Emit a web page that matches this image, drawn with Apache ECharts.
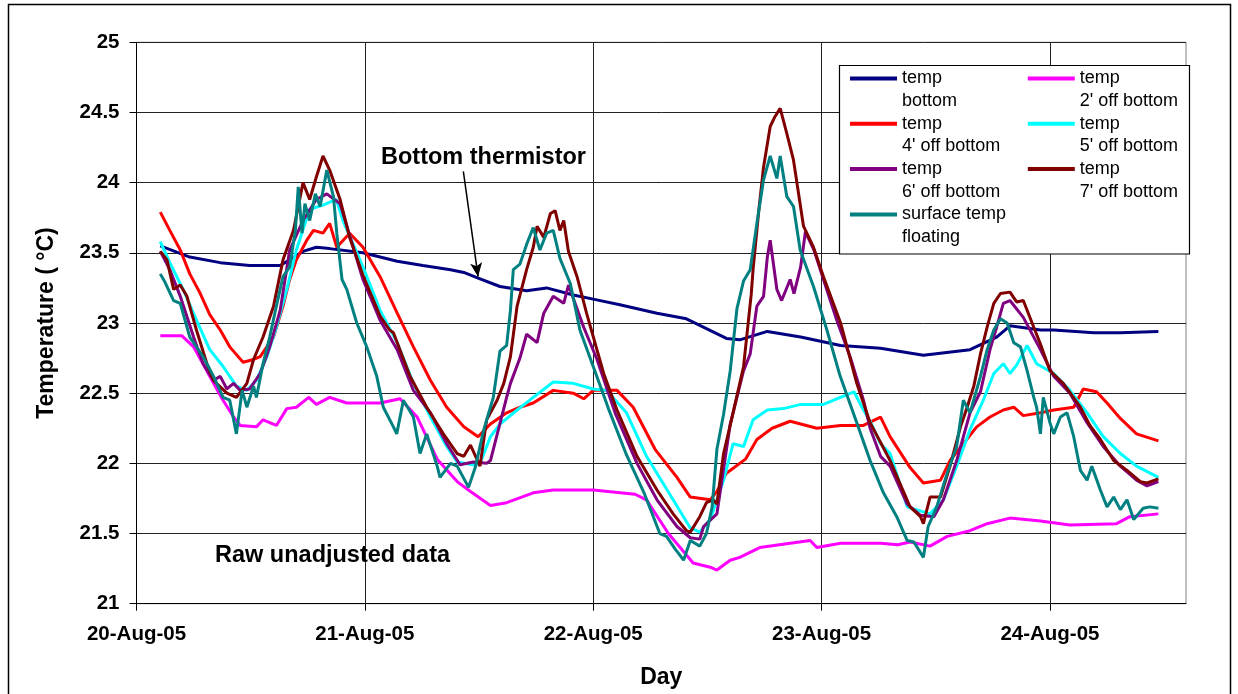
<!DOCTYPE html>
<html>
<head>
<meta charset="utf-8">
<title>Raw unadjusted temperature data</title>
<script src="https://cdn.jsdelivr.net/npm/echarts@6/dist/echarts.min.js"></script>
<style>
  html, body { margin: 0; padding: 0; background: #fff; }
  #main { width: 1238px; height: 694px; }
</style>
</head>
<body>
<div id="main"></div>
<script>
// x values are hours from 20-Aug-05 00:00, y values are deg C
const dayLabels = ['20-Aug-05', '21-Aug-05', '22-Aug-05', '23-Aug-05', '24-Aug-05'];

const tempBottom = [[2.5,23.55],[5.6,23.47],[8.8,23.43],[11.9,23.41],[15.1,23.41],[16.1,23.45],[17.5,23.51],[18.9,23.54],[20.3,23.53],[23.8,23.5],[27.4,23.44],[30.1,23.41],[33.0,23.38],[34.4,23.36],[35.9,23.32],[38.2,23.26],[41.0,23.23],[43.1,23.25],[45.9,23.2],[48.0,23.17],[50.8,23.13],[54.7,23.07],[57.8,23.03],[59.9,22.96],[62.0,22.89],[63.4,22.88],[66.3,22.94],[69.8,22.9],[74.0,22.84],[78.2,22.82],[82.7,22.77],[87.6,22.81],[90.4,22.9],[91.8,22.98],[95.0,22.95],[96.4,22.95],[100.6,22.93],[103.4,22.93],[107.4,22.94]];

const temp2ft = [[2.5,22.91],[4.75,22.91],[6.0,22.83],[9.0,22.46],[10.2,22.33],[10.9,22.27],[12.6,22.26],[13.3,22.31],[14.7,22.27],[15.8,22.39],[16.8,22.4],[18.1,22.47],[18.9,22.42],[20.3,22.47],[22.1,22.43],[25.6,22.43],[27.7,22.46],[29.5,22.33],[31.6,22.03],[33.7,21.87],[35.1,21.8],[37.2,21.7],[38.9,21.72],[41.7,21.79],[43.8,21.81],[48.0,21.81],[52.4,21.78],[53.6,21.74],[55.9,21.5],[58.5,21.29],[60.3,21.26],[61.0,21.24],[62.4,21.31],[63.4,21.33],[65.5,21.4],[68.7,21.43],[70.8,21.45],[71.5,21.4],[74.0,21.43],[78.2,21.43],[80.0,21.42],[81.3,21.44],[83.4,21.41],[85.2,21.48],[87.6,21.52],[89.4,21.57],[91.8,21.61],[95.0,21.59],[98.1,21.56],[103.0,21.57],[104.4,21.62],[107.4,21.64]];

const temp4ft = [[2.5,23.79],[3.5,23.66],[4.6,23.52],[5.6,23.35],[6.7,23.21],[7.7,23.06],[8.8,22.95],[9.8,22.83],[11.2,22.72],[12.3,22.74],[13.0,22.76],[14.4,22.9],[15.4,23.12],[16.1,23.31],[16.8,23.45],[17.9,23.59],[18.6,23.66],[19.6,23.64],[20.3,23.71],[21.05,23.54],[22.4,23.64],[23.8,23.54],[25.6,23.33],[27.4,23.07],[29.1,22.83],[30.9,22.59],[32.6,22.4],[34.4,22.26],[35.9,22.19],[37.2,22.28],[38.9,22.36],[40.3,22.4],[41.7,22.43],[43.8,22.52],[45.9,22.5],[47.0,22.46],[48.0,22.52],[50.5,22.52],[52.2,22.4],[54.5,22.1],[56.8,21.9],[58.2,21.76],[60.3,21.74],[61.0,21.8],[62.0,21.93],[64.0,22.03],[65.2,22.17],[66.8,22.25],[68.7,22.3],[71.5,22.25],[74.0,22.27],[76.4,22.27],[78.2,22.33],[79.2,22.19],[81.3,21.97],[82.7,21.86],[84.5,21.88],[85.5,22.02],[86.9,22.14],[88.3,22.26],[89.7,22.33],[91.1,22.38],[92.2,22.4],[93.2,22.34],[95.0,22.36],[96.4,22.38],[98.5,22.4],[99.5,22.53],[100.9,22.51],[102.0,22.43],[103.4,22.32],[105.1,22.21],[107.4,22.16]];

const temp5ft = [[2.5,23.58],[3.5,23.43],[4.9,23.24],[6.3,23.02],[7.7,22.81],[9.1,22.69],[10.5,22.55],[11.6,22.52],[12.6,22.59],[13.7,22.76],[14.7,22.97],[15.8,23.24],[16.8,23.52],[18.2,23.81],[19.6,23.84],[21.0,23.88],[21.7,23.73],[23.8,23.4],[25.6,23.09],[27.4,22.86],[29.1,22.57],[30.9,22.33],[32.6,22.12],[33.7,22.01],[35.4,21.99],[36.1,22.0],[37.2,22.19],[38.2,22.28],[40.0,22.38],[41.7,22.47],[43.8,22.58],[45.9,22.57],[48.0,22.53],[49.4,22.52],[51.5,22.36],[53.6,22.05],[56.4,21.74],[58.2,21.54],[59.2,21.51],[60.3,21.6],[61.7,21.88],[62.7,22.14],[63.8,22.12],[64.8,22.31],[66.3,22.38],[68.0,22.39],[69.8,22.42],[72.2,22.42],[73.6,22.46],[75.4,22.51],[76.4,22.38],[77.1,22.3],[78.2,22.14],[79.2,22.07],[81.0,21.69],[83.4,21.64],[84.8,21.74],[86.2,21.98],[87.6,22.24],[89.0,22.45],[90.1,22.64],[91.1,22.71],[91.8,22.64],[92.5,22.7],[93.6,22.84],[94.6,22.71],[96.4,22.64],[98.1,22.52],[99.9,22.36],[101.6,22.19],[103.4,22.07],[105.1,21.98],[107.4,21.9]];

const temp6ft = [[2.5,23.51],[3.5,23.38],[4.6,23.19],[6.0,22.9],[7.0,22.71],[8.1,22.59],[8.8,22.62],[9.5,22.53],[10.2,22.57],[10.9,22.52],[11.9,22.53],[13.0,22.64],[14.0,22.83],[15.1,23.09],[16.1,23.52],[17.5,23.73],[18.9,23.88],[20.0,23.92],[21.4,23.85],[23.8,23.31],[25.6,23.02],[27.4,22.81],[29.1,22.52],[30.9,22.36],[32.6,22.14],[34.0,21.99],[35.4,22.01],[36.8,22.0],[37.2,22.02],[38.9,22.47],[39.3,22.57],[40.3,22.75],[41.0,22.92],[42.1,22.86],[42.8,23.07],[43.8,23.19],[44.9,23.14],[45.4,23.27],[47.0,22.97],[48.4,22.74],[50.3,22.36],[52.6,22.0],[54.7,21.74],[56.8,21.55],[58.2,21.47],[59.2,21.46],[59.6,21.55],[61.0,21.64],[62.4,22.28],[63.8,22.66],[64.5,22.78],[65.2,23.12],[65.9,23.19],[66.3,23.47],[66.6,23.59],[67.3,23.24],[67.8,23.16],[68.7,23.31],[69.1,23.21],[69.8,23.4],[70.3,23.65],[71.2,23.52],[72.2,23.31],[73.6,23.02],[75.0,22.76],[76.4,22.45],[77.1,22.25],[78.2,22.05],[79.2,21.98],[81.0,21.71],[82.4,21.63],[83.8,21.62],[84.8,21.74],[86.2,22.02],[87.6,22.36],[88.7,22.51],[89.7,22.81],[90.4,22.97],[91.1,23.14],[91.8,23.16],[93.2,23.04],[95.0,22.81],[96.4,22.62],[98.1,22.5],[99.9,22.29],[101.6,22.12],[103.4,21.98],[105.1,21.88],[106.2,21.84],[107.4,21.87]];

const temp7ft = [[2.5,23.51],[3.2,23.45],[3.9,23.24],[4.6,23.27],[5.3,23.19],[6.3,22.95],[7.4,22.71],[8.1,22.59],[9.5,22.5],[10.5,22.47],[11.6,22.57],[12.3,22.74],[13.3,22.9],[14.4,23.12],[15.4,23.45],[16.5,23.66],[17.5,24.0],[18.2,23.88],[18.9,24.04],[19.6,24.19],[20.3,24.09],[21.4,23.88],[22.4,23.61],[23.8,23.34],[25.6,23.05],[26.6,22.95],[27.0,22.93],[28.75,22.62],[30.5,22.4],[32.25,22.21],[33.7,22.07],[34.4,22.05],[35.1,22.13],[35.9,22.01],[36.1,21.98],[36.8,22.31],[37.9,22.45],[38.6,22.57],[39.3,22.76],[40.0,23.12],[41.0,23.38],[41.7,23.54],[42.1,23.69],[42.8,23.61],[43.5,23.78],[44.0,23.8],[44.5,23.66],[44.9,23.73],[45.4,23.51],[46.3,23.33],[47.3,23.07],[49.1,22.64],[50.5,22.38],[52.6,22.05],[54.7,21.81],[56.4,21.64],[57.8,21.52],[58.2,21.51],[59.2,21.62],[59.9,21.72],[60.6,21.74],[61.0,21.71],[61.7,22.07],[62.7,22.36],[63.8,22.69],[64.6,23.2],[64.8,23.38],[65.4,23.8],[65.9,24.11],[66.6,24.4],[67.1,24.47],[67.65,24.53],[68.35,24.35],[69.05,24.16],[70.1,23.69],[71.15,23.54],[72.2,23.33],[74.0,23.0],[75.7,22.57],[77.1,22.29],[79.2,22.02],[81.3,21.69],[82.4,21.62],[82.7,21.57],[83.4,21.76],[84.5,21.76],[85.5,21.98],[86.6,22.26],[87.3,22.4],[88.0,22.55],[88.7,22.78],[89.4,22.97],[90.1,23.14],[90.8,23.21],[91.8,23.22],[92.5,23.15],[93.2,23.16],[94.3,22.97],[95.0,22.85],[96.0,22.66],[97.4,22.57],[99.2,22.4],[100.2,22.27],[101.3,22.17],[102.7,22.02],[104.1,21.95],[105.5,21.87],[106.2,21.86],[107.4,21.89]];

const tempSurface = [[2.5,23.35],[3.0,23.29],[3.9,23.16],[4.6,23.14],[5.6,22.9],[7.0,22.76],[8.1,22.62],[9.1,22.47],[9.8,22.45],[10.5,22.21],[11.1,22.52],[11.6,22.4],[12.3,22.55],[12.6,22.47],[13.3,22.71],[14.0,22.9],[14.7,23.12],[15.4,23.33],[16.1,23.4],[16.7,23.66],[17.0,23.97],[17.4,23.64],[17.7,23.85],[18.2,23.73],[18.8,23.92],[19.3,23.83],[20.0,24.09],[20.7,23.9],[21.05,23.64],[21.6,23.31],[22.1,23.24],[23.15,23.0],[24.2,22.83],[25.25,22.62],[25.94,22.4],[27.0,22.26],[27.35,22.21],[28.05,22.45],[29.1,22.33],[29.8,22.07],[30.5,22.21],[31.6,21.98],[31.9,21.9],[33.0,22.0],[33.7,21.98],[34.9,21.83],[35.6,21.97],[36.5,22.24],[36.8,22.31],[37.5,22.47],[38.2,22.8],[38.9,22.84],[39.3,23.09],[39.6,23.38],[40.3,23.42],[41.0,23.56],[41.7,23.68],[42.4,23.52],[43.1,23.64],[43.8,23.66],[44.5,23.46],[45.6,23.28],[46.6,22.95],[48.0,22.69],[49.6,22.39],[51.5,22.06],[53.4,21.78],[55.0,21.5],[55.7,21.48],[56.6,21.39],[57.5,21.31],[58.2,21.45],[59.2,21.41],[59.9,21.5],[60.5,21.69],[61.0,22.1],[61.7,22.35],[62.4,22.66],[63.1,23.1],[63.8,23.3],[64.5,23.38],[65.2,23.71],[65.9,24.02],[66.6,24.19],[67.3,24.03],[67.65,24.19],[68.35,23.9],[69.05,23.83],[69.75,23.52],[71.15,23.26],[72.56,22.95],[73.96,22.62],[75.7,22.29],[77.1,22.02],[78.5,21.79],[79.9,21.62],[81.0,21.45],[81.7,21.44],[82.7,21.33],[83.2,21.55],[84.1,21.69],[85.2,21.93],[86.2,22.12],[86.9,22.45],[87.6,22.36],[88.7,22.62],[89.4,22.81],[90.1,22.95],[90.8,23.03],[91.5,23.0],[92.2,22.86],[92.9,22.83],[93.6,22.66],[94.3,22.47],[94.6,22.4],[95.0,22.21],[95.3,22.47],[96.0,22.29],[96.4,22.21],[97.1,22.33],[97.8,22.36],[98.5,22.19],[99.2,21.95],[99.9,21.88],[100.4,21.98],[101.3,21.81],[102.0,21.69],[102.7,21.76],[103.4,21.67],[104.1,21.74],[104.8,21.6],[105.8,21.68],[106.5,21.69],[107.4,21.68]];

const seriesNames = ['temp\nbottom', "temp\n2' off bottom", "temp\n4' off bottom", "temp\n5' off bottom",
  "temp\n6' off bottom", "temp\n7' off bottom", 'surface temp\nfloating'];
const seriesColors = ['#000080', '#ff00ff', '#ff0000', '#00ffff', '#800080', '#800000', '#008080'];
const seriesData = [tempBottom, temp2ft, temp4ft, temp5ft, temp6ft, temp7ft, tempSurface];

// arrow from the label down to the bottom thermistor trace
const arrowFrom = [34.35, 24.08];
const arrowTo = [35.9, 23.33];

const FONT = '"Liberation Sans", Arial, Helvetica, sans-serif';
const dayTicks = dayLabels.map(function (d, i) { return i * 24; });

const chart = echarts.init(document.getElementById('main'));

const series = seriesData.map(function (data, i) {
  const s = {
    name: seriesNames[i],
    type: 'line',
    data: data,
    showSymbol: false,
    symbol: 'none',
    lineStyle: { width: 3, color: seriesColors[i] },
    itemStyle: { color: seriesColors[i] },
    silent: true,
    animation: false,
    z: 2
  };
  if (i === 0) {
    s.markLine = {
      silent: true,
      symbol: ['none', 'arrow'],
      symbolSize: [9, 14],
      label: { show: false },
      lineStyle: { color: '#000', width: 1.5, type: 'solid' },
      data: [[{ coord: arrowFrom }, { coord: arrowTo }]],
      animation: false
    };
  }
  return s;
});

function legendItems(idx) {
  return idx.map(function (i) {
    return { name: seriesNames[i], itemStyle: { color: seriesColors[i] } };
  });
}

// an empty first line keeps the swatch level with the first text line
const legendBase = {
  orient: 'vertical',
  top: 44.75,
  padding: 0,
  itemGap: -22.2,
  itemWidth: 47,
  itemHeight: 4,
  icon: 'rect',
  selectedMode: false,
  z: 10,
  formatter: function (name) { return '\n' + name; },
  textStyle: { fontFamily: FONT, fontSize: 18, color: '#000', lineHeight: 22.5 }
};

const option = {
  backgroundColor: '#fff',
  animation: false,
  grid: {
    left: 136.5, right: 52, top: 42.3, bottom: 90.3,
    show: true, borderColor: '#808080', borderWidth: 1,
    outerBoundsMode: 'none'
  },
  xAxis: {
    type: 'value',
    min: 0, max: 110.3, interval: 24,
    name: 'Day',
    nameLocation: 'middle',
    nameGap: 62,
    nameTextStyle: { fontFamily: FONT, fontSize: 23, fontWeight: 'bold', color: '#000' },
    axisLine: { show: true, lineStyle: { color: '#000', width: 1 } },
    axisTick: { show: true, length: 7, customValues: dayTicks, lineStyle: { color: '#000' } },
    axisLabel: {
      margin: 20, fontFamily: FONT, fontSize: 20.5, fontWeight: 'bold', color: '#000',
      customValues: dayTicks,
      formatter: function (v) {
        const i = Math.round(v / 24);
        return Math.abs(v - i * 24) < 1e-6 && dayLabels[i] ? dayLabels[i] : '';
      }
    },
    splitLine: { show: true, lineStyle: { color: '#222', width: 1 } }
  },
  yAxis: {
    type: 'value',
    min: 21, max: 25, interval: 0.5,
    name: 'Temperature ( °C)',
    nameLocation: 'middle',
    nameRotate: 90,
    nameGap: 78,
    nameTextStyle: { fontFamily: FONT, fontSize: 23, fontWeight: 'bold', color: '#000' },
    axisLine: { show: true, lineStyle: { color: '#000', width: 1 } },
    axisTick: { show: true, length: 7, lineStyle: { color: '#000' } },
    axisLabel: { margin: 17, fontFamily: FONT, fontSize: 20.5, fontWeight: 'bold', color: '#000' },
    splitLine: { show: true, lineStyle: { color: '#222', width: 1 } }
  },
  legend: [
    Object.assign({}, legendBase, { left: 850, data: legendItems([0, 2, 4, 6]) }),
    Object.assign({}, legendBase, { left: 1027.8, data: legendItems([1, 3, 5]) })
  ],
  graphic: [
    {
      type: 'rect', z: 100, silent: true,
      shape: { x: 8.5, y: 4.5, width: 1222, height: 720 },
      style: { fill: 'none', stroke: '#000', lineWidth: 1.5 }
    },
    {
      type: 'rect', z: 5, silent: true,
      shape: { x: 839.5, y: 65.5, width: 350, height: 188.5 },
      style: { fill: '#fff', stroke: '#000', lineWidth: 1.2 }
    },
    {
      type: 'text', z: 6, silent: true,
      style: { x: 381, y: 158, text: 'Bottom thermistor', verticalAlign: 'middle',
        font: 'bold 23.5px ' + FONT, fill: '#000' }
    },
    {
      type: 'text', z: 6, silent: true,
      style: { x: 215, y: 556, text: 'Raw unadjusted data', verticalAlign: 'middle',
        font: 'bold 23.5px ' + FONT, fill: '#000' }
    }
  ],
  series: series
};

chart.setOption(option);
</script>
</body>
</html>
